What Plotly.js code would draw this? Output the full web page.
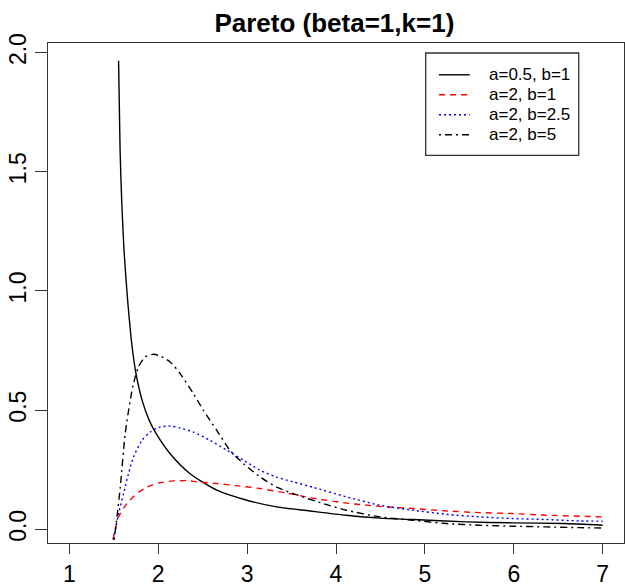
<!DOCTYPE html>
<html>
<head>
<meta charset="utf-8">
<script src="https://cdn.plot.ly/plotly-3.0.1.min.js"></script>
<style>
  html, body { margin: 0; padding: 0; background: #ffffff; }
  #chart { width: 625px; height: 587px; }
</style>
</head>
<body>
<div id="chart"></div>
<script>
// Series values
const seriesNames = ["a=0.5, b=1", "a=2, b=1", "a=2, b=2.5", "a=2, b=5"];

const xA = [1.554, 1.571, 1.589, 1.615, 1.656, 1.711, 1.757, 1.819, 1.899, 1.977, 2.134, 2.359, 2.659, 2.996, 3.332, 3.706, 4.118, 4.492, 4.866, 5.466, 5.989, 6.551, 7.0];
const yA = [1.965, 1.590, 1.380, 1.171, 0.961, 0.751, 0.639, 0.541, 0.457, 0.401, 0.317, 0.233, 0.164, 0.122, 0.094, 0.077, 0.059, 0.047, 0.041, 0.031, 0.027, 0.024, 0.017];

const xB = [1.491, 1.554, 1.648, 1.760, 1.873, 2.003, 2.171, 2.322, 2.471, 2.659, 2.883, 3.145, 3.445, 3.720, 4.118, 4.492, 4.866, 5.241, 5.615, 5.989, 6.364, 6.738, 7.0];
const yB = [-0.043, 0.052, 0.108, 0.150, 0.177, 0.194, 0.203, 0.204, 0.198, 0.192, 0.183, 0.171, 0.152, 0.132, 0.110, 0.096, 0.087, 0.077, 0.070, 0.066, 0.059, 0.055, 0.052];

const xC = [1.497, 1.554, 1.610, 1.666, 1.722, 1.816, 1.910, 2.022, 2.134, 2.246, 2.396, 2.583, 2.771, 2.958, 3.145, 3.332, 3.519, 3.743, 4.118, 4.492, 4.866, 5.241, 5.615, 5.989, 6.364, 6.738, 7.0];
const yC = [-0.043, 0.066, 0.150, 0.234, 0.303, 0.373, 0.408, 0.429, 0.433, 0.425, 0.408, 0.373, 0.332, 0.290, 0.248, 0.219, 0.199, 0.176, 0.136, 0.101, 0.080, 0.063, 0.052, 0.045, 0.041, 0.035, 0.034];

const xD = [1.505, 1.536, 1.573, 1.629, 1.685, 1.722, 1.778, 1.853, 1.947, 2.022, 2.134, 2.246, 2.396, 2.508, 2.659, 2.808, 2.957, 3.145, 3.332, 3.519, 3.856, 4.118, 4.492, 4.866, 5.241, 5.615, 5.989, 6.364, 6.738, 7.0];
const yD = [-0.043, 0.052, 0.177, 0.402, 0.541, 0.611, 0.681, 0.723, 0.734, 0.727, 0.702, 0.653, 0.569, 0.499, 0.415, 0.331, 0.276, 0.220, 0.177, 0.150, 0.108, 0.080, 0.052, 0.038, 0.024, 0.017, 0.013, 0.010, 0.007, 0.005];

const xTicks = [1, 2, 3, 4, 5, 6, 7];
const yTicks = [0, 0.5, 1.0, 1.5, 2.0];
const yTickLabels = ["0.0", "0.5", "1.0", "1.5", "2.0"];

const FONT = "Liberation Sans, Arial, sans-serif";

const colors = ["#000000", "#ff0000", "#0000ff", "#000000"];
const dashes = ["solid", "6px,5px", "2px,3px", "2px,4px,7px,4px"];
const xs = [xA, xB, xC, xD];
const ys = [yA, yB, yC, yD];

const traces = xs.map((x, i) => ({
  x: x, y: ys[i], name: seriesNames[i], mode: "lines",
  line: { color: colors[i], width: 1.4, dash: dashes[i], shape: "spline", smoothing: 0.7 }
}));

// Hand-drawn R-style legend (box, samples and labels in paper coordinates)
const legX0 = 0.6788, legX1 = 0.7321, legTextX = 0.7616;
const legRowY = [0.9364, 0.8964, 0.8564, 0.8164];

const shapes = [
  { type: "rect", xref: "paper", yref: "paper",
    x0: 0.6557, x1: 0.9214, y0: 0.7754, y1: 0.98,
    line: { color: "#333333", width: 1.3 }, fillcolor: "#ffffff", layer: "below" }
];
const annotations = [];
seriesNames.forEach((nm, i) => {
  shapes.push({ type: "line", xref: "paper", yref: "paper",
    x0: legX0, x1: legX1, y0: legRowY[i], y1: legRowY[i],
    line: { color: colors[i], width: 1.4, dash: dashes[i] } });
  annotations.push({ xref: "paper", yref: "paper", x: legTextX, y: legRowY[i],
    xanchor: "left", yanchor: "middle", text: nm, showarrow: false,
    font: { family: FONT, size: 17, color: "#000000" } });
});

const layout = {
  width: 625, height: 587,
  paper_bgcolor: "#ffffff", plot_bgcolor: "#ffffff",
  margin: { l: 48, r: 1, t: 43, b: 44, pad: 0 },
  font: { family: FONT, color: "#000000" },
  title: {
    text: "<b>Pareto (beta=1,k=1)</b>",
    font: { family: FONT, size: 26, color: "#000000" },
    x: 0.535, xanchor: "center", y: 1 - 32.3 / 587, yanchor: "bottom", yref: "container"
  },
  xaxis: {
    range: [0.76, 7.24], tickmode: "array", tickvals: xTicks,
    ticks: "outside", ticklen: 10, tickwidth: 1, tickcolor: "#333333",
    showline: true, mirror: true, linecolor: "#333333", linewidth: 1.3,
    showgrid: false, zeroline: false,
    tickfont: { family: FONT, size: 23, color: "#000000" }
  },
  yaxis: {
    range: [-0.0575, 2.04], tickmode: "array", tickvals: yTicks, ticktext: yTickLabels,
    ticks: "outside", ticklen: 12, tickwidth: 1, tickcolor: "#333333", tickangle: -90,
    showline: true, mirror: true, linecolor: "#333333", linewidth: 1.3,
    showgrid: false, zeroline: false,
    tickfont: { family: FONT, size: 23, color: "#000000" }
  },
  showlegend: false,
  shapes: shapes,
  annotations: annotations
};

Plotly.newPlot("chart", traces, layout, { displayModeBar: false, staticPlot: true });
</script>
</body>
</html>
